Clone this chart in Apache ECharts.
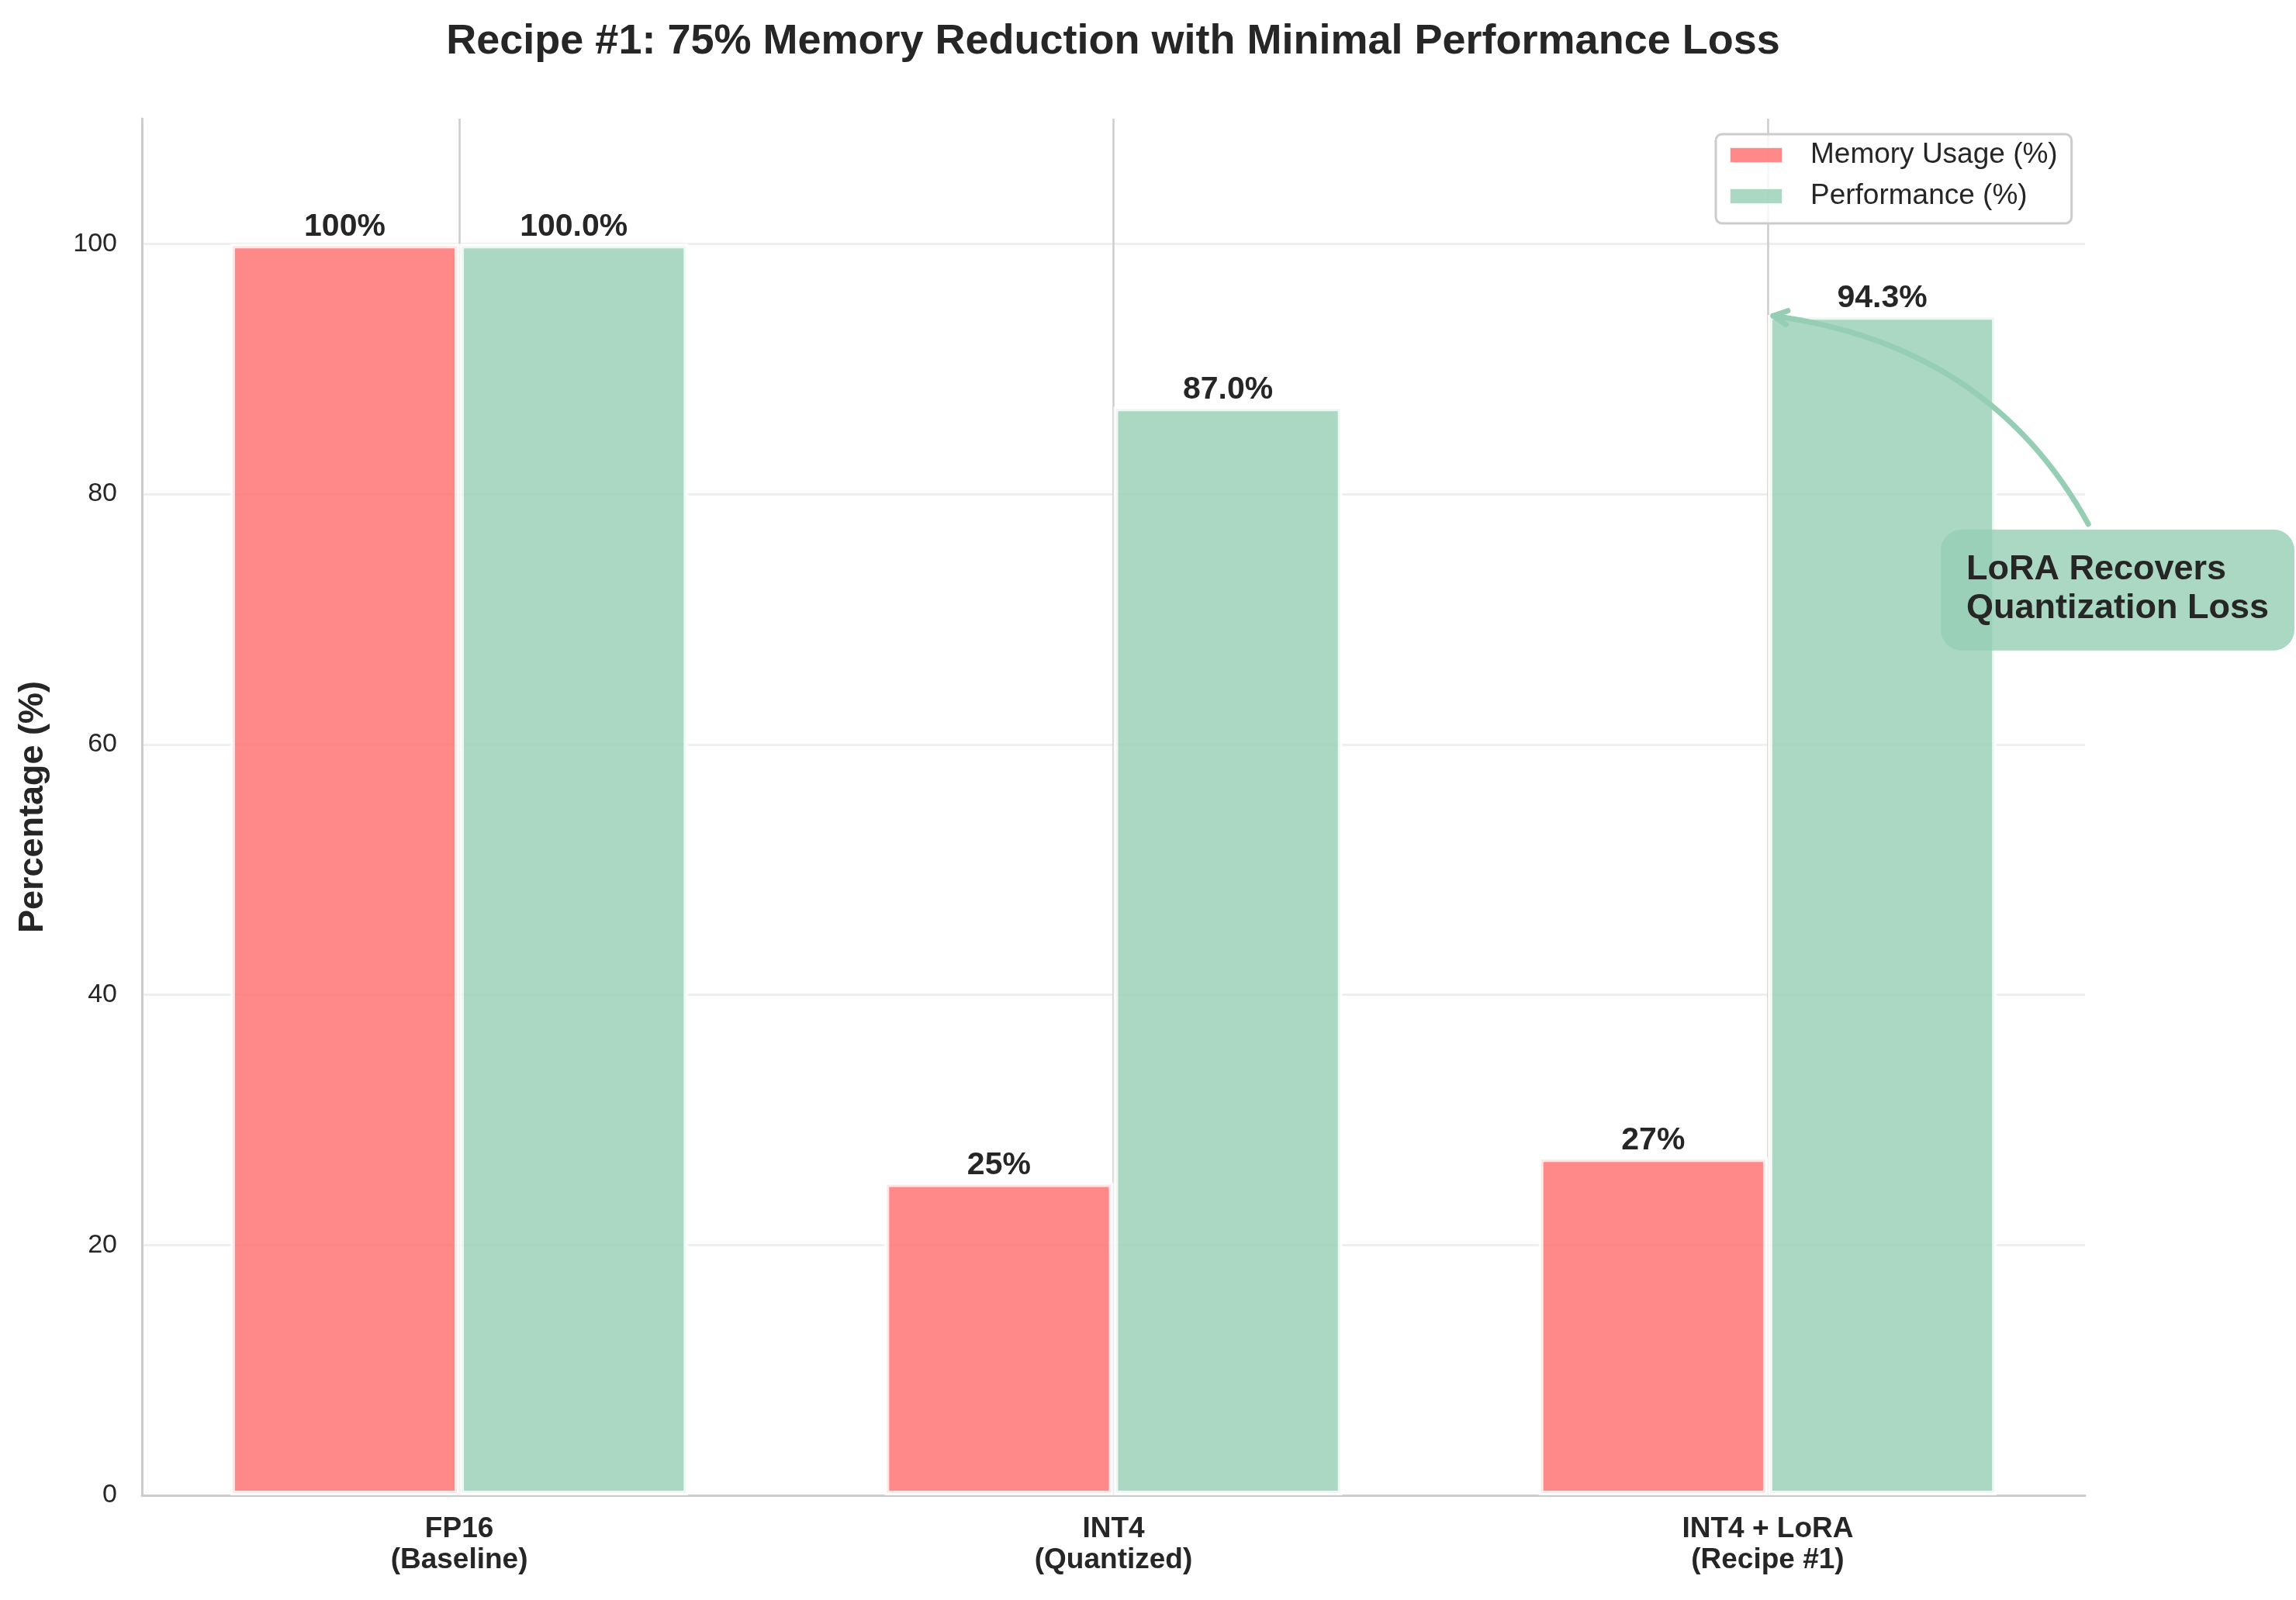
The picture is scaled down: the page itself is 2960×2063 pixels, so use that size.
<!DOCTYPE html>
<html>
<head>
<meta charset="utf-8">
<script src="https://cdn.jsdelivr.net/npm/echarts@6/dist/echarts.min.js"></script>
<style>
html,body{margin:0;padding:0;background:#ffffff;}
#c{width:2960px;height:2063px;}
</style>
</head>
<body>
<div id="c"></div>
<script>
// ---- data ----
const categories = ['FP16\n(Baseline)', 'INT4\n(Quantized)', 'INT4 + LoRA\n(Recipe #1)'];
const xPositions = [0, 1, 2];
const memoryUsage = [100, 25, 27];
const performance = [100.0, 87.0, 94.3];
const yTicks = [0, 20, 40, 60, 80, 100];
const seriesNames = ['Memory Usage (%)', 'Performance (%)'];
const titleText = 'Recipe #1: 75% Memory Reduction with Minimal Performance Loss';
const yAxisName = 'Percentage (%)';
const annotationText = 'LoRA Recovers\nQuantization Loss';
const annotationXY = [2.0, 94.3];
const annotationTextAt = [2.536, 72.4];

const FONT = '"Liberation Sans", Arial, Helvetica, sans-serif';
const TXT = '#262626';
const RED = 'rgba(255,107,107,0.8)';
const GREEN = 'rgba(150,206,180,0.8)';

const chart = echarts.init(document.getElementById('c'), null, {renderer: 'canvas', width: 2960, height: 2063});

const barLabel = (digits) => ({
  show: true,
  position: 'top',
  distance: 1,
  formatter: p => p.value[1].toFixed(digits) + '%',
  fontSize: 41,
  fontWeight: 'bold',
  color: TXT,
  fontFamily: FONT
});

const option = {
  animation: false,
  backgroundColor: '#ffffff',
  textStyle: {fontFamily: FONT},
  title: {
    text: titleText,
    left: 1435,
    top: 27,
    textAlign: 'center',
    padding: 0,
    textStyle: {fontSize: 54, fontWeight: 'bold', color: TXT, fontFamily: FONT, lineHeight: 54}
  },
  grid: {left: 183, right: 272, top: 153, bottom: 135, containLabel: false, outerBoundsMode: 'none'},
  legend: {
    data: seriesNames,
    orient: 'vertical',
    left: 2212,
    top: 173,
    padding: [7, 18, 15, 17],
    itemGap: 13,
    itemWidth: 68,
    itemHeight: 20,
    icon: 'rect',
    selectedMode: false,
    backgroundColor: 'rgba(255,255,255,0.8)',
    borderColor: '#cccccc',
    borderWidth: 3,
    borderRadius: 8,
    textStyle: {fontSize: 37, color: TXT, fontFamily: FONT, lineHeight: 40, padding: [0, 0, 0, 31]}
  },
  xAxis: {
    type: 'value',
    min: -0.485,
    max: 2.485,
    axisLine: {show: true, onZero: false, lineStyle: {color: '#cccccc', width: 3}},
    axisTick: {show: false, customValues: xPositions},
    axisLabel: {
      customValues: xPositions,
      formatter: v => categories[Math.round(v)],
      fontSize: 37, fontWeight: 'bold', color: TXT, lineHeight: 40, margin: 24, fontFamily: FONT
    },
    splitLine: {show: true, lineStyle: {color: '#cccccc', width: 2.5}}
  },
  yAxis: {
    type: 'value',
    min: 0,
    max: 110,
    interval: 20,
    name: yAxisName,
    nameLocation: 'middle',
    nameGap: 118,
    nameTextStyle: {fontSize: 45, fontWeight: 'bold', color: TXT, fontFamily: FONT},
    axisLine: {show: true, onZero: false, lineStyle: {color: '#cccccc', width: 3}},
    axisTick: {show: false, customValues: yTicks},
    axisLabel: {customValues: yTicks, fontSize: 34, color: TXT, margin: 32, fontFamily: FONT},
    splitLine: {show: true, lineStyle: {color: '#efefef', width: 3}}
  },
  series: [
    {
      name: seriesNames[0],
      type: 'bar',
      data: xPositions.map((x, i) => [x, memoryUsage[i]]),
      barWidth: '35%',
      barGap: '0%',
      itemStyle: {color: RED, borderColor: 'rgba(255,255,255,0.8)', borderWidth: 6},
      label: barLabel(0),
      emphasis: {disabled: true}
    },
    {
      name: seriesNames[1],
      type: 'bar',
      data: xPositions.map((x, i) => [x, performance[i]]),
      barWidth: '35%',
      barGap: '0%',
      itemStyle: {color: GREEN, borderColor: 'rgba(255,255,255,0.8)', borderWidth: 6},
      label: barLabel(1),
      emphasis: {disabled: true}
    }
  ]
};
chart.setOption(option);

// ---- annotation (curved arrow, arc3 rad=0.3) ----
const P0 = chart.convertToPixel({gridIndex: 0}, annotationTextAt);
const P2 = chart.convertToPixel({gridIndex: 0}, annotationXY);
const rad = 0.3;
const ddx = P2[0] - P0[0], ddy = P2[1] - P0[1];
const C = [(P0[0] + P2[0]) / 2 - rad * ddy, (P0[1] + P2[1]) / 2 + rad * ddx];
const bez = t => [
  (1 - t) * (1 - t) * P0[0] + 2 * t * (1 - t) * C[0] + t * t * P2[0],
  (1 - t) * (1 - t) * P0[1] + 2 * t * (1 - t) * C[1] + t * t * P2[1]
];
const boxHalfL = 229, boxHalfR = 227, boxHalfT = 77, boxHalfB = 79;
const boxTop = P0[1] - boxHalfT;
let lo = 0, hi = 0.6;
for (let k = 0; k < 60; k++) { const m = (lo + hi) / 2; if (bez(m)[1] > boxTop - 7) lo = m; else hi = m; }
const t0 = (lo + hi) / 2;
lo = 0.5; hi = 1;
for (let k = 0; k < 60; k++) { const m = (lo + hi) / 2; const p = bez(m); const d = Math.hypot(p[0] - P2[0], p[1] - P2[1]); if (d > 7) lo = m; else hi = m; }
const t1 = (lo + hi) / 2;
const Q0 = bez(t0), Q2 = bez(t1);
const Q1 = [
  P0[0] * (1 - t0) * (1 - t1) + C[0] * ((1 - t0) * t1 + t0 * (1 - t1)) + P2[0] * t0 * t1,
  P0[1] * (1 - t0) * (1 - t1) + C[1] * ((1 - t0) * t1 + t0 * (1 - t1)) + P2[1] * t0 * t1
];
const tan = [2 * ((1 - t1) * (C[0] - P0[0]) + t1 * (P2[0] - C[0])), 2 * ((1 - t1) * (C[1] - P0[1]) + t1 * (P2[1] - C[1]))];
const tl = Math.hypot(tan[0], tan[1]);
const u = [tan[0] / tl, tan[1] / tl];
const nrm = [-u[1], u[0]];
const hl = 18, hw = 9;
const arm1 = [Q2[0] - u[0] * hl + nrm[0] * hw, Q2[1] - u[1] * hl + nrm[1] * hw];
const arm2 = [Q2[0] - u[0] * hl - nrm[0] * hw, Q2[1] - u[1] * hl - nrm[1] * hw];

chart.setOption({
  graphic: [
    {
      type: 'bezierCurve', z: 100, silent: true,
      shape: {x1: Q0[0], y1: Q0[1], x2: Q2[0], y2: Q2[1], cpx1: Q1[0], cpy1: Q1[1]},
      style: {stroke: '#96CEB4', lineWidth: 7, fill: null, lineCap: 'round'}
    },
    {
      type: 'polyline', z: 100, silent: true,
      shape: {points: [arm1, Q2, arm2]},
      style: {stroke: '#96CEB4', lineWidth: 7, fill: null, lineCap: 'round', lineJoin: 'round'}
    },
    {
      type: 'rect', z: 101, silent: true,
      shape: {x: P0[0] - boxHalfL, y: P0[1] - boxHalfT, width: boxHalfL + boxHalfR, height: boxHalfT + boxHalfB, r: 27},
      style: {fill: GREEN, stroke: null}
    },
    {
      type: 'text', z: 102, silent: true,
      x: P0[0] - 196, y: P0[1],
      style: {
        text: annotationText, fill: TXT,
        fontSize: 45, fontWeight: 'bold', fontFamily: FONT,
        align: 'left', verticalAlign: 'middle', lineHeight: 50
      }
    }
  ]
});
</script>
</body>
</html>
